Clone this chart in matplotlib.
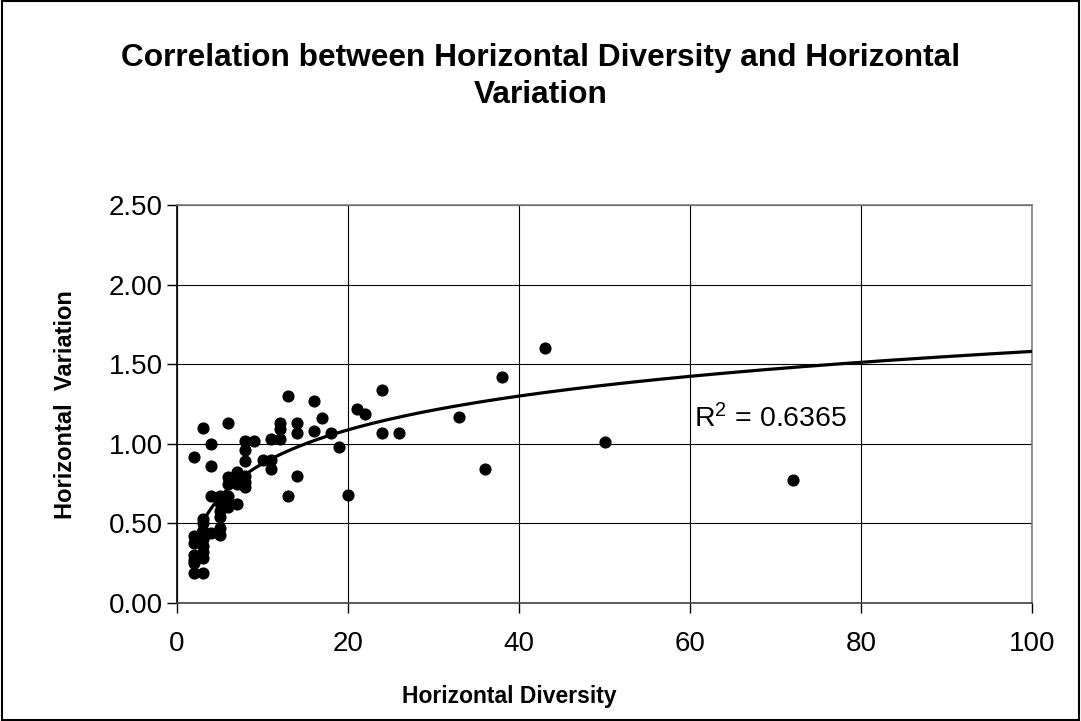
import matplotlib.pyplot as plt
import numpy as np
from matplotlib.patches import Rectangle

plt.rcParams['font.family'] = ['Liberation Sans', 'DejaVu Sans']

# horizontal diversity (x) and horizontal variation (y)
diversity = [2, 2, 2, 2, 2, 2, 2,
             3, 3, 3, 3, 3, 3, 3, 3, 3,
             4, 4, 4, 4,
             5, 5, 5, 5, 5, 5,
             6, 6, 6, 6, 6, 6,
             7, 7, 7, 7,
             8, 8, 8, 8, 8, 8,
             9, 10, 11, 11, 11, 12, 12, 12,
             13, 13, 14, 14, 14, 16, 16, 17, 18, 19, 20,
             21, 22, 24, 24, 26, 33, 36, 38, 43, 50, 72]
variation = [0.92, 0.42, 0.38, 0.30, 0.27, 0.25, 0.19,
             1.10, 0.53, 0.50, 0.45, 0.40, 0.36, 0.32, 0.28, 0.19,
             1.00, 0.86, 0.67, 0.44,
             0.67, 0.63, 0.58, 0.54, 0.47, 0.43,
             1.13, 0.79, 0.75, 0.67, 0.63, 0.60,
             0.82, 0.78, 0.75, 0.62,
             1.02, 0.96, 0.89, 0.80, 0.76, 0.73,
             1.02, 0.90, 1.03, 0.90, 0.84, 1.13, 1.09, 1.03,
             1.30, 0.67, 1.13, 1.07, 0.80, 1.27, 1.08, 1.16, 1.07, 0.98, 0.68,
             1.22, 1.19, 1.34, 1.07, 1.07, 1.17, 0.84, 1.42, 1.60, 1.01, 0.77]

# Excel log trendline y = a*ln(x) + b, coefficients estimated from the drawn curve
# (many overlapping points are hidden, so refitting the visible ones doesn't match)
trend_a = 0.306
trend_b = 0.171
r_squared = 0.6365

xs = np.array(diversity, dtype=float)
ys = np.array(variation)
xt = np.linspace(xs.min(), 100, 200)
yt = trend_a * np.log(xt) + trend_b

fig = plt.figure(figsize=(10.81, 7.21), dpi=100)
ax = fig.add_axes([177 / 1081, 1 - 603 / 721, (1032 - 177) / 1081, (603 - 205) / 721])

ax.grid(True, color='black', linewidth=0.8)
ax.set_axisbelow(True)
ax.scatter(xs, ys, s=60, color='black', zorder=3)
ax.plot(xt, yt, color='black', linewidth=2.3, zorder=4)

ax.set_xlim(0, 100)
ax.set_ylim(0, 2.5)
ax.set_xticks([0, 20, 40, 60, 80, 100])
ax.set_yticks([0, 0.5, 1.0, 1.5, 2.0, 2.5])
ax.set_yticklabels(['%.2f' % v for v in ax.get_yticks()])
ax.tick_params(direction='out', length=7, width=1, labelsize=20, colors='black')
ax.tick_params(axis='y', pad=3)
ax.tick_params(axis='x', pad=13)
ax.spines['left'].set_color('black')
ax.spines['bottom'].set_color('#404040')
ax.spines['top'].set_color('#808080')
ax.spines['right'].set_color('#808080')
for s in ax.spines.values():
    s.set_linewidth(1.2)

ax.text(60.5, 1.16, '$\\mathregular{R^2}$ = %.4f' % r_squared, fontsize=20.5, va='center', ha='left')

fig.text(0.5, 1 - 58 / 721, 'Correlation between Horizontal Diversity and Horizontal',
         ha='center', va='center', fontsize=22.8, fontweight='bold')
fig.text(0.5, 1 - 95 / 721, 'Variation',
         ha='center', va='center', fontsize=22.8, fontweight='bold')
fig.text(509 / 1081, 1 - 697 / 721, 'Horizontal Diversity', ha='center', va='center',
         fontsize=16.5, fontweight='bold')
fig.text(65 / 1081, 1 - 405 / 721, 'Horizontal  Variation', ha='center', va='center',
         fontsize=17, fontweight='bold', rotation=90)

fig.patches.append(Rectangle((0.002, 0.002), 0.996, 0.996, transform=fig.transFigure,
                             fill=False, edgecolor='black', linewidth=1.5))

fig.savefig('out.png', dpi=100)
